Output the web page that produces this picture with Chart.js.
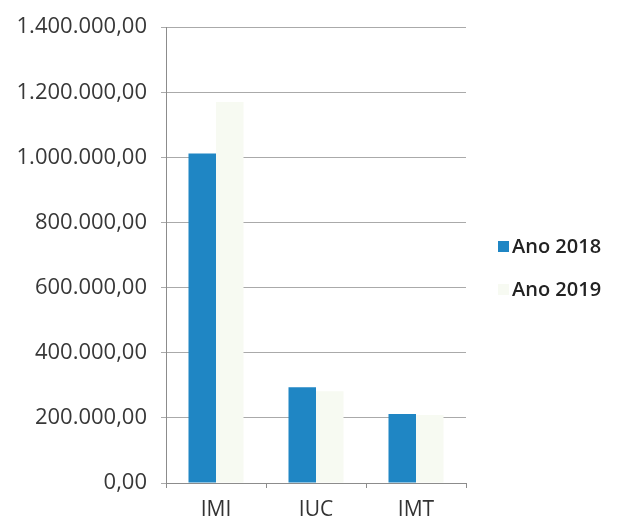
<!DOCTYPE html>
<html>
<head>
<meta charset="utf-8">
<script src="https://cdn.jsdelivr.net/npm/chart.js@4.4.1/dist/chart.umd.min.js"></script>
<style>
  body { margin: 0; background: #fff; }
  canvas { display: block; }
</style>
</head>
<body>
<canvas id="chart" width="625" height="529"></canvas>
<script>
const categories = ['IMI', 'IUC', 'IMT'];
const ano2018 = [1012000, 294000, 212000];
const ano2019 = [1170000, 282000, 209000];
const seriesLabels = ['Ano 2018', 'Ano 2019'];

const FONT = '"Open Sans", sans-serif';

function fmt(v) {
    let s = Math.round(v).toString().replace(/\B(?=(\d{3})+(?!\d))/g, '.');
    return s + ',00';
}

// legend drawn by hand so it sits where the original one is
const sideLegend = {
    id: 'sideLegend',
    afterDraw(chart) {
        const ctx = chart.ctx;
        const x = chart.chartArea.right + 32;
        let y = 247;
        ctx.save();
        ctx.font = '600 20px ' + FONT;
        ctx.textBaseline = 'middle';
        chart.data.datasets.forEach(ds => {
            ctx.fillStyle = ds.backgroundColor;
            ctx.fillRect(x, y - 6, 11, 11);
            ctx.fillStyle = '#222';
            ctx.fillText(ds.label, x + 14, y);
            y += 43;
        });
        ctx.restore();
    }
};

new Chart(document.getElementById('chart'), {
    type: 'bar',
    data: {
        labels: categories,
        datasets: [
            { label: seriesLabels[0], data: ano2018, backgroundColor: '#1f86c4' },
            { label: seriesLabels[1], data: ano2019, backgroundColor: '#f7faf2' }
        ]
    },
    options: {
        responsive: false,
        animation: false,
        layout: { padding: { top: 21, right: 159, left: 0, bottom: 0 } },
        datasets: {
            bar: { categoryPercentage: 0.55, barPercentage: 1, borderWidth: 0 }
        },
        plugins: {
            legend: { display: false },
            tooltip: { enabled: false }
        },
        scales: {
            x: {
                afterFit(scale) { scale.height = 46; },
                grid: { drawOnChartArea: false, tickLength: 5, color: '#8c8c8c' },
                border: { color: '#8c8c8c' },
                ticks: { color: '#333', padding: 9, font: { family: FONT, size: 21 } }
            },
            y: {
                min: 0,
                max: 1400000,
                afterFit(scale) { scale.width = 166; },
                grid: { color: '#aaaaaa', tickLength: 5 },
                border: { color: '#8c8c8c' },
                ticks: {
                    stepSize: 200000,
                    color: '#383838',
                    padding: 14,
                    font: { family: FONT, size: 22 },
                    callback: v => fmt(v)
                }
            }
        }
    },
    plugins: [sideLegend]
});
</script>
</body>
</html>
